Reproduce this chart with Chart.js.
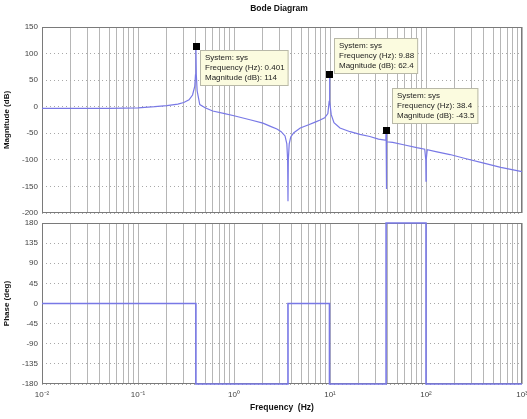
<!DOCTYPE html>
<html lang="en">
<head>
<meta charset="UTF-8">
<title>Bode Diagram</title>
<style>
  html, body { margin: 0; padding: 0; background: #fff; }
  #wrap { position: relative; width: 527px; height: 419px; }
  canvas { position: absolute; left: 0; }
  #magChart { top: 0; }
  #phaseChart { top: 215px; }
</style>
</head>
<body>
<div id="wrap">
  <canvas id="magChart" width="527" height="219"></canvas>
  <canvas id="phaseChart" width="527" height="204"></canvas>
</div>

<script src="https://cdn.jsdelivr.net/npm/chart.js"></script>
<script>
  // Magnitude curve (Hz, dB)
  const magFreq = [0.01, 0.02, 0.05, 0.1, 0.15, 0.2, 0.26, 0.3, 0.34, 0.37, 0.39, 0.397, 0.401, 0.405, 0.413,
    0.44, 0.5, 0.6, 0.8, 1.0, 1.5, 2.0, 2.4, 2.8, 3.1, 3.4, 3.55, 3.62, 3.65, 3.68, 3.76, 3.9, 4.2, 4.9,
    6.0, 7.0, 7.9, 8.8, 9.5, 9.8, 9.88, 9.96, 10.3, 11.0, 12.7, 16.2, 20.5, 26, 32, 37.5, 38.2, 38.4,
    38.5, 38.6, 38.8, 39.2, 45, 60, 80, 97, 99.5, 100, 100.5, 103, 130, 178, 250, 400, 600, 1000];
  const magDb = [-3, -3, -3, -2, 0, 2, 5, 8, 13, 22, 38, 60, 114, 60, 30,
    4, -2, -8, -13, -17, -25, -31, -37, -42, -47, -55, -70, -100, -178, -100, -70, -57, -49, -40,
    -34, -29, -25, -21, -13, 10, 62.4, 10, -15, -30, -40, -47, -52, -56, -61, -63, -55, -43.5,
    -100, -155, -100, -66, -67, -72, -77, -80, -100, -140, -100, -81, -85, -90, -97, -106, -114, -122];

  // Phase curve (Hz, deg)
  const phaseFreq = [0.01, 0.401, 0.401, 3.65, 3.65, 9.88, 9.88, 38.4, 38.4, 100, 100, 1000];
  const phaseDeg = [0, 0, -180, -180, 0, 0, -180, -180, 180, 180, -180, -180];

  // Data tips
  const tipFreq = [0.401, 9.88, 38.4];
  const tipMag = [114, 62.4, -43.5];

  // Axis ticks
  const decades = [-2, -1, 0, 1, 2];
  const magTicks = { min: -200, max: 150, step: 50 };
  const phaseTicks = { min: -180, max: 180, step: 45 };

  // where the tip boxes sit relative to their marker (px)
  const tipOffsets = [[4, 4], [5, -36], [6, -42]];

  const FONT = '"Liberation Sans", Arial, sans-serif';
  const LINE = '#7878e6';
  const supMap = { '-': '\u207B', '0': '\u2070', '1': '\u00B9', '2': '\u00B2', '3': '\u00B3' };

  const xTickValues = [];
  decades.forEach(e => {
    for (let m = 1; m <= 9; m++) xTickValues.push(m * Math.pow(10, e));
  });
  xTickValues.push(1000);

  function toPoints(xs, ys) {
    return xs.map((x, i) => ({ x: x, y: ys[i] }));
  }

  function decadeLabel(value) {
    const e = Math.log10(value);
    if (Math.abs(e - Math.round(e)) > 1e-6) return '';
    return '10' + String(Math.round(e)).split('').map(c => supMap[c]).join('');
  }

  function xScale(showLabels) {
    return {
      type: 'logarithmic',
      min: 0.01,
      max: 1000,
      afterBuildTicks: s => { s.ticks = xTickValues.map(v => ({ value: v })); },
      afterFit: s => {
        s.height = showLabels ? 35 : 0;
        s.paddingLeft = 0;
        s.paddingRight = 0;
      },
      grid: { color: '#b6b6b6', lineWidth: 1, drawTicks: false },
      border: { display: false },
      ticks: {
        display: showLabels,
        autoSkip: false,
        maxRotation: 0,
        padding: 6,
        color: '#444',
        font: { family: FONT, size: 8 },
        callback: v => decadeLabel(v)
      },
      title: {
        display: showLabels,
        text: 'Frequency  (Hz)',
        color: '#111',
        font: { family: FONT, size: 8.5, weight: 'bold' },
        padding: { top: 0, bottom: 6 }
      }
    };
  }

  function yScale(t, label) {
    return {
      min: t.min,
      max: t.max,
      afterBuildTicks: s => {
        const ticks = [];
        for (let v = t.min; v <= t.max; v += t.step) ticks.push({ value: v });
        s.ticks = ticks;
      },
      afterFit: s => {
        s.width = 42;
        s.paddingTop = 0;
        s.paddingBottom = 0;
      },
      grid: { color: '#a8a8a8', lineWidth: 1, drawTicks: false },
      border: { display: false, dash: [1, 3] },
      ticks: {
        padding: 4,
        color: '#444',
        font: { family: FONT, size: 8 }
      },
      title: {
        display: true,
        text: label,
        color: '#111',
        font: { family: FONT, size: 8, weight: 'bold' },
        padding: { top: 2, bottom: 0 }
      }
    };
  }

  // axes box behind the curve
  const boxPlugin = {
    id: 'box',
    beforeDatasetsDraw(chart) {
      const { ctx, chartArea: a } = chart;
      ctx.save();
      ctx.strokeStyle = '#7a7a7a';
      ctx.lineWidth = 1;
      ctx.strokeRect(Math.round(a.left) + 0.5, Math.round(a.top) + 0.5,
        Math.round(a.right - a.left) - 1, Math.round(a.bottom - a.top) - 1);
      ctx.restore();
    }
  };

  const titlePlugin = {
    id: 'bodeTitle',
    afterDraw(chart) {
      const { ctx, chartArea: a } = chart;
      ctx.save();
      ctx.font = 'bold 8.5px ' + FONT;
      ctx.fillStyle = '#111';
      ctx.textAlign = 'center';
      ctx.textBaseline = 'middle';
      ctx.fillText('Bode Diagram', (a.left + a.right) / 2 - 3, 9);
      ctx.restore();
    }
  };

  const tipPlugin = {
    id: 'dataTips',
    afterDatasetsDraw(chart) {
      const { ctx } = chart;
      const xs = chart.scales.x, ys = chart.scales.y;
      ctx.save();
      ctx.font = '8px ' + FONT;
      ctx.textBaseline = 'middle';
      tipFreq.forEach((f, i) => {
        const px = Math.round(xs.getPixelForValue(f));
        const py = Math.round(ys.getPixelForValue(tipMag[i]));
        const lines = ['System: sys', 'Frequency (Hz): ' + f, 'Magnitude (dB): ' + tipMag[i]];
        const w = Math.max(...lines.map(l => ctx.measureText(l).width)) + 9;
        const h = 36;
        const bx = px + tipOffsets[i][0], by = py + tipOffsets[i][1];
        ctx.fillStyle = '#fbfbdf';
        ctx.fillRect(bx, by, w, h);
        ctx.strokeStyle = '#b8b8a8';
        ctx.lineWidth = 1;
        ctx.strokeRect(bx + 0.5, by + 0.5, w - 1, h - 1);
        ctx.fillStyle = '#222';
        lines.forEach((l, k) => ctx.fillText(l, bx + 5, by + 8 + k * 9.8));
        ctx.fillStyle = '#000';
        ctx.fillRect(px - 3, py - 3, 7, 7);
      });
      ctx.restore();
    }
  };

  const magChart = new Chart(document.getElementById('magChart'), {
    type: 'line',
    data: {
      datasets: [{
        data: toPoints(magFreq, magDb),
        borderColor: LINE,
        borderWidth: 1.2,
        pointRadius: 0,
        tension: 0,
        clip: 3
      }]
    },
    options: {
      responsive: false,
      animation: false,
      layout: { padding: { top: 27, right: 5, bottom: 6, left: 0 } },
      plugins: { legend: { display: false }, tooltip: { enabled: false } },
      scales: {
        x: xScale(false),
        y: yScale(magTicks, 'Magnitude (dB)')
      }
    },
    plugins: [boxPlugin, titlePlugin, tipPlugin]
  });

  const phaseChart = new Chart(document.getElementById('phaseChart'), {
    type: 'line',
    data: {
      datasets: [{
        data: toPoints(phaseFreq, phaseDeg),
        borderColor: LINE,
        borderWidth: 1.6,
        pointRadius: 0,
        tension: 0,
        clip: 3
      }]
    },
    options: {
      responsive: false,
      animation: false,
      layout: { padding: { top: 8, right: 5, bottom: 0, left: 0 } },
      plugins: { legend: { display: false }, tooltip: { enabled: false } },
      scales: {
        x: xScale(true),
        y: yScale(phaseTicks, 'Phase (deg)')
      }
    },
    plugins: [boxPlugin]
  });
</script>
</body>
</html>
